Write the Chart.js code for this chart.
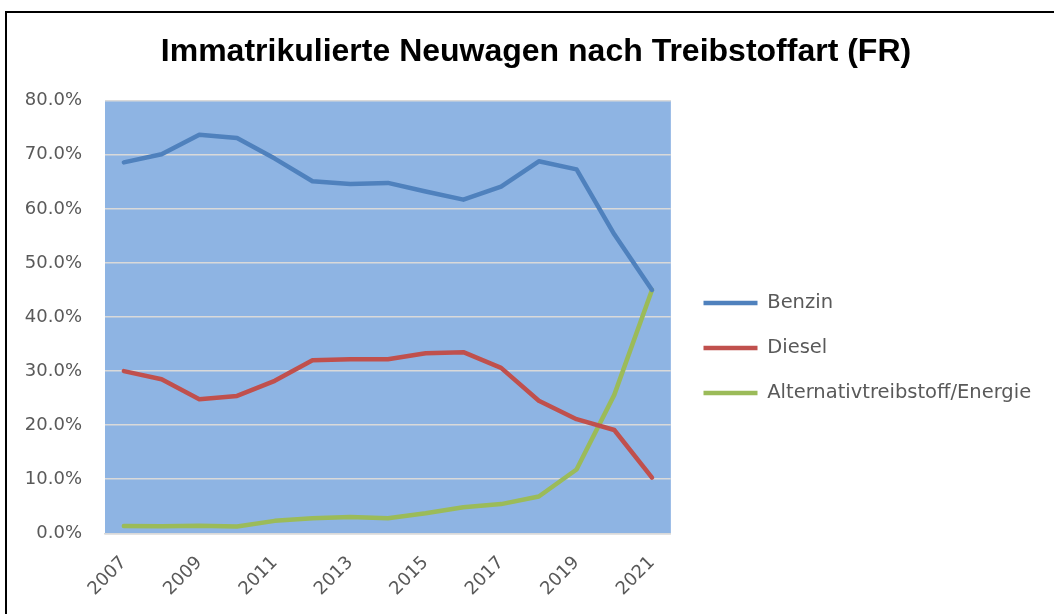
<!DOCTYPE html>
<html>
<head>
<meta charset="utf-8">
<script src="https://cdn.jsdelivr.net/npm/chart.js@4"></script>
<style>
  body { margin: 0; background: #fff; }
  #wrap { position: relative; width: 1054px; height: 614px; overflow: hidden; }
  #frame { position: absolute; left: 5px; top: 11px; width: 1200px; height: 800px;
           border-left: 2px solid #000; border-top: 2px solid #000; }
  canvas { position: absolute; left: 0; top: 0; }
</style>
</head>
<body>
<div id="wrap">
  <div id="frame"></div>
  <canvas id="lineChart" width="1054" height="614"></canvas>
</div>
<script>
const years = ["2007", "2008", "2009", "2010", "2011", "2012", "2013", "2014", "2015", "2016", "2017", "2018", "2019", "2020", "2021"];
const benzin = [68.6, 70.1, 73.7, 73.1, 69.3, 65.1, 64.6, 64.8, 63.2, 61.7, 64.1, 68.8, 67.3, 55.3, 45.0];
const diesel = [30.0, 28.5, 24.8, 25.4, 28.2, 32.0, 32.2, 32.2, 33.3, 33.5, 30.6, 24.5, 21.1, 19.1, 10.3];
const alternativ = [1.35, 1.3, 1.4, 1.25, 2.3, 2.8, 3.0, 2.8, 3.7, 4.8, 5.4, 6.8, 11.8, 25.6, 45.0];

const TICK_FONT = { family: "DejaVu Sans", size: 18 };
const LEGEND_FONT = { family: "DejaVu Sans", size: 19.5 };
const GREY_TEXT = "#595959";

// plot background + nudging title/legend to where the original has them
const plotBg = {
    id: 'plotBg',
    beforeDraw(chart) {
        const a = chart.chartArea, ctx = chart.ctx;
        ctx.save();
        ctx.fillStyle = '#8EB4E3';
        ctx.fillRect(a.left, a.top, a.right - a.left, a.bottom - a.top);
        ctx.restore();
    },
    afterLayout(chart) {
        const lg = chart.legend;
        const dx = 678 - lg.left, dy = 41;
        lg.left += dx; lg.right += dx;
        lg.top += dy; lg.bottom += dy;
        const t = chart.titleBlock;
        const tx = 536 - (t.left + t.right) / 2;
        t.left += tx; t.right += tx;
    }
};

function line(label, data, color) {
    return {
        label: label,
        data: data,
        borderColor: color,
        backgroundColor: color,
        borderWidth: 4.5,
        borderCapStyle: 'round',
        borderJoinStyle: 'round',
        pointRadius: 0,
        pointHoverRadius: 0,
        tension: 0,
        fill: false
    };
}

const CHART = document.getElementById('lineChart').getContext('2d');
window.onload = function() {
    let lineChart = new Chart(CHART, {
        type: 'line',
        data: {
            labels: years,
            datasets: [
                line("Benzin", benzin, "#4F81BD"),
                line("Diesel", diesel, "#C0504D"),
                line("Alternativtreibstoff/Energie", alternativ, "#9BBB59")
            ]
        },
        options: {
            responsive: false,
            animation: false,
            layout: { padding: { left: 0, right: 20, top: 0, bottom: 0 } },
            plugins: {
                title: {
                    display: true,
                    text: "Immatrikulierte Neuwagen nach Treibstoffart (FR)",
                    color: "#000",
                    font: { family: "Liberation Sans", size: 32, weight: "bold" },
                    padding: { top: 33, bottom: 29.3 }
                },
                legend: {
                    position: 'right',
                    maxWidth: 420,
                    labels: {
                        usePointStyle: true,
                        pointStyle: 'line',
                        pointStyleWidth: 54,
                        boxHeight: 4,
                        padding: 25.5,
                        color: GREY_TEXT,
                        font: LEGEND_FONT
                    }
                },
                tooltip: { enabled: false }
            },
            scales: {
                x: {
                    offset: true,
                    grid: { display: false, drawTicks: false },
                    border: { display: true, color: '#d9d9d9', width: 1.5 },
                    ticks: {
                        autoSkip: false,
                        minRotation: 45,
                        maxRotation: 45,
                        padding: 19,
                        color: GREY_TEXT,
                        font: TICK_FONT,
                        callback: function(v, i) { return i % 2 === 0 ? years[i] : ''; }
                    },
                    afterFit: function(scale) { scale.height = 80.7; }
                },
                y: {
                    min: 0,
                    max: 80,
                    grid: { color: '#d9d9d9', lineWidth: 1.5, drawTicks: false },
                    border: { display: false },
                    ticks: {
                        stepSize: 10,
                        padding: 23,
                        color: GREY_TEXT,
                        font: TICK_FONT,
                        callback: function(v) { return v.toFixed(1) + '%'; }
                    },
                    afterFit: function(scale) { scale.width = 105; }
                }
            }
        },
        plugins: [plotBg]
    });
};
</script>
</body>
</html>
